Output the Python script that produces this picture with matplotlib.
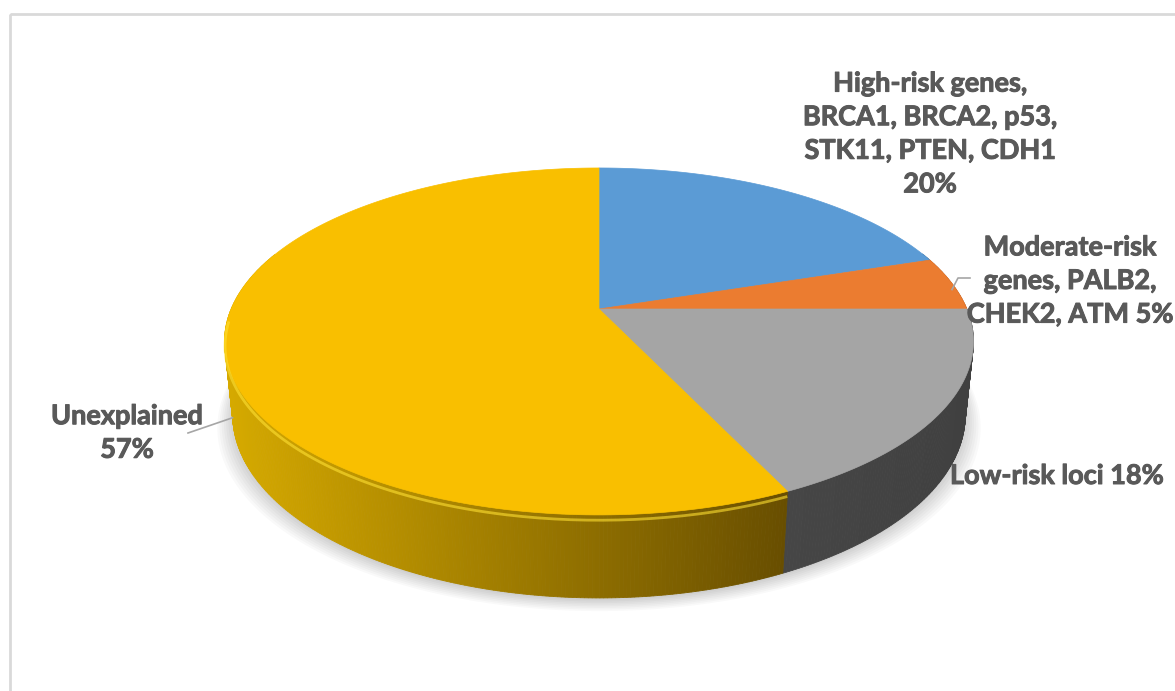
import numpy as np
import matplotlib.pyplot as plt
import matplotlib.patheffects as pe
from matplotlib.patches import Polygon, Rectangle
from matplotlib.colors import to_rgb

# slice data (Excel order: clockwise from 12 o'clock)
labels = [
    "High-risk genes,\nBRCA1, BRCA2, p53,\nSTK11, PTEN, CDH1\n20%",
    "Moderate-risk\ngenes, PALB2,\nCHEK2, ATM 5%",
    "Low-risk loci 18%",
    "Unexplained\n57%",
]
values = [20, 5, 18, 57]
top_colors = ["#5B9BD5", "#EB7C30", "#A5A5A5", "#F9BF00"]
side_light = ["#3d6f9c", "#a9561f", "#464646", "#d6aa00"]
side_dark = ["#2f5a80", "#8a4518", "#404040", "#684e00"]
label_pos = [(930, 134), (1070, 281), (950, 476), (127, 433)]
label_ha = ["center", "center", "left", "center"]

# 3D perspective set-up (screen pixels)
cx, cy = 599, 309
F, D = 1751.0, 4.76
phi = np.radians(27.07)
h = 0.225


def proj(t, z):
    X, Y = np.cos(t), np.sin(t)
    depth = Y * np.cos(phi) - z * np.sin(phi) + D
    return cx + F * X / depth, cy - F * (Y * np.sin(phi) + z * np.cos(phi)) / depth


fig = plt.figure(figsize=(11.75, 6.91), dpi=100)
ax = fig.add_axes([0, 0, 1, 1])
ax.set_xlim(0, 1175)
ax.set_ylim(691, 0)
ax.axis("off")

ax.add_patch(Rectangle((10, 14), 1200, 720, fill=False, edgecolor="#d9d9d9", lw=2))

total = sum(values)
cum = np.concatenate([[0], np.cumsum(values)])
starts = np.radians(90 - 360 * cum[:-1] / total)
ends = np.radians(90 - 360 * cum[1:] / total)

# soft drop shadow
tt = np.linspace(0, 2 * np.pi, 300)
for k in range(8):
    sx, sy = proj(tt, -h)
    sx = cx + (sx - cx) * (1 + 0.006 * k)
    sy = sy + 2 + 1.6 * k
    ax.add_patch(Polygon(np.c_[sx, sy], closed=True, facecolor="black",
                         edgecolor="none", alpha=0.022, zorder=1))

# side walls, split into thin strips, drawn far to near
strips = []
for i in range(len(values)):
    t = np.linspace(starts[i], ends[i], max(4, int(abs(np.degrees(ends[i] - starts[i])) * 2)))
    xs_vis = proj(t[np.sin(t) < 0.05], 0)[0]
    if len(xs_vis) < 2:
        xs_vis = proj(t, 0)[0]
    x0, x1 = xs_vis.min(), xs_vis.max()
    cl, cd = np.array(to_rgb(side_light[i])), np.array(to_rgb(side_dark[i]))
    for a, b in zip(t[:-1], t[1:]):
        m = 0.5 * (a + b)
        if np.sin(m) > 0.35:
            continue
        ax_, ay_ = proj(np.array([a, b]), 0)
        bx_, by_ = proj(np.array([b, a]), -h)
        fr = np.clip((proj(m, 0)[0] - x0) / max(x1 - x0, 1), 0, 1)
        col = cl + (cd - cl) * fr
        strips.append((-np.sin(m), np.c_[np.r_[ax_, bx_], np.r_[ay_, by_]], col))
strips.sort(key=lambda s: s[0])
for _, pts, col in strips:
    ax.add_patch(Polygon(pts, closed=True, facecolor=col, edgecolor=col, lw=0.6, zorder=2))

# top face
for i in range(len(values)):
    t = np.linspace(starts[i], ends[i], 200)
    x, y = proj(t, 0)
    pts = np.c_[np.r_[cx, x], np.r_[cy, y]]
    ax.add_patch(Polygon(pts, closed=True, facecolor=top_colors[i],
                         edgecolor=top_colors[i], lw=0.5, zorder=3))

# bevel highlight on the front rim of the yellow slice
t = np.linspace(ends[3] + np.radians(360), starts[3] + np.radians(360), 300)
t = t[np.sin(t) < -0.04]
x, y = proj(t, -0.014)
ax.plot(x, y, color="#FFE033", lw=2.0, alpha=0.6, zorder=4, solid_capstyle="butt")

# leader lines
ux, uy = proj(np.radians(-167.4), -h * 0.95)
ax.plot([ux, 188], [uy, 433], color="#a6a6a6", lw=1.2, zorder=4)
mx, my = proj(0.5 * (starts[1] + ends[1]), 0)
ax.plot([mx, 958, 970], [my + 6, 278, 278], color="#a6a6a6", lw=1.2, zorder=4)

for lab, (lx, ly), ha in zip(labels, label_pos, label_ha):
    ax.text(lx, ly, lab, ha=ha, va="center", multialignment="center",
            fontsize=19.5, fontweight="bold", family=["Lato", "DejaVu Sans"],
            color="#595959", linespacing=1.48, zorder=5,
            path_effects=[pe.withStroke(linewidth=0.7, foreground="#595959")])

fig.savefig("out.png", dpi=100)
